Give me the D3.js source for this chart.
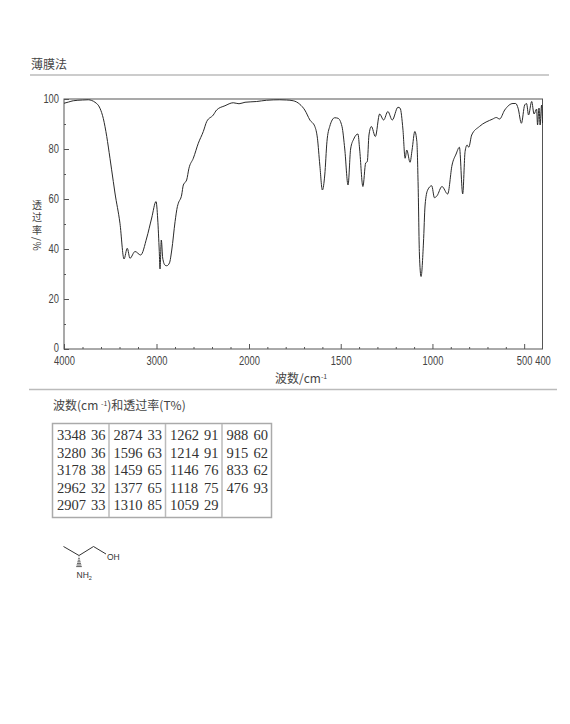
<!DOCTYPE html>
<html>
<head>
<meta charset="utf-8">
<style>
  html, body { margin: 0; padding: 0; background: #fff; }
  svg { display: block; }
  text { fill: #444; }
  .cjk { font-family: "Noto Sans CJK SC", sans-serif; font-size: 12px; }
  .ytitle { font-size: 10px; }
  .tick text { font-family: "Liberation Sans", sans-serif; font-size: 12px; fill: #444; }
  .tick line { stroke: #555; }
  .cell { font-family: "Liberation Serif", serif; font-size: 14.5px; fill: #333; }
  .atom { font-family: "Liberation Sans", sans-serif; font-size: 8.5px; fill: #333; }
</style>
<script src="https://cdn.jsdelivr.net/npm/d3@7"></script>
</head>
<body>
<script>
// spectrum
var wavenumbers = [4000, 3950, 3900, 3800, 3737, 3700, 3665, 3611, 3575, 3538, 3503, 3467, 3449, 3395, 3351, 3316, 3287, 3232, 3171, 3106, 3052, 3005, 2987, 2970, 2962, 2948, 2933, 2907, 2889, 2860, 2835, 2799, 2774, 2764, 2728, 2710, 2674, 2649, 2602, 2548, 2494, 2457, 2386, 2350, 2260, 2170, 2108, 2043, 1958, 1904, 1832, 1795, 1759, 1723, 1696, 1668, 1641, 1627, 1614, 1600, 1587, 1575, 1560, 1533, 1515, 1493, 1478, 1460, 1446, 1429, 1406, 1397, 1379, 1364, 1355, 1346, 1333, 1311, 1288, 1266, 1243, 1219, 1188, 1176, 1161, 1149, 1140, 1122, 1111, 1096, 1085, 1078, 1071, 1062, 1049, 1040, 1026, 1004, 989, 975, 948, 917, 893, 871, 853, 835, 822, 811, 802, 786, 744, 671, 652, 634, 606, 561, 546, 533, 515, 497, 487, 476, 459, 446, 432, 427, 419, 413, 405, 400];
var transmittance = [98.3, 98.8, 99.3, 99.6, 99.7, 99.4, 98.7, 96.3, 92.2, 85, 76.3, 67, 62.4, 50.3, 36, 40.3, 36.3, 39, 37.6, 44.4, 52.4, 59, 52, 39, 32, 43.6, 36.4, 33.5, 33.3, 34.4, 39.6, 51, 57, 58.3, 61.6, 65.6, 67.6, 72.3, 76.3, 82.3, 87, 91, 93.6, 95.6, 97.3, 98.5, 98.1, 98.7, 99, 99.5, 99.7, 99.6, 99.3, 97.9, 95.6, 91.6, 89, 84.3, 73.6, 63.6, 69.6, 83, 89, 92.5, 92.3, 89, 80, 65.6, 80, 84, 86, 80, 65, 74.4, 75, 85.6, 89, 85, 94, 91.6, 95, 91.6, 96.7, 96.3, 88, 76.3, 79.6, 74.7, 79.6, 87, 83, 65.6, 38, 29, 42.4, 57.6, 63.6, 65.3, 60.5, 61.3, 65, 62, 73.6, 78, 80.7, 62, 79, 81.6, 80.7, 85.6, 89, 92, 92.6, 92, 95.6, 98.2, 98.2, 96.3, 90.3, 97.6, 98.2, 93.6, 99, 94, 96, 89.6, 96.4, 89.6, 97.6, 90.4];

var xMajor = [4000, 3000, 2000, 1500, 1000, 500, 400];
var xMinor = [3800, 3600, 3400, 3200, 2800, 2600, 2400, 2200, 1900, 1800, 1700, 1600, 1400, 1300, 1200, 1100, 900, 800, 700, 600];
var yMajor = [0, 20, 40, 60, 80, 100];
var yMinor = [10, 30, 50, 70, 90];
var yTitleChars = ['透', '过', '率', '/', '%'];

// peak table, column by column
var peakWave = [[3348, 3280, 3178, 2962, 2907], [2874, 1596, 1459, 1377, 1310], [1262, 1214, 1146, 1118, 1059], [988, 915, 833, 476]];
var peakT = [[36, 36, 38, 32, 33], [33, 63, 65, 65, 85], [91, 91, 76, 75, 29], [60, 62, 62, 93]];

var svg = d3.select('body').append('svg').attr('width', 570).attr('height', 724);

// the axis changes scale at 2000
var x = d3.scaleLinear().domain([4000, 2000, 400]).range([64, 249, 542.5]);
var y = d3.scaleLinear().domain([0, 100]).range([349, 99]);

function rule(y0, x0, x1) {
    svg.append('line').attr('x1', x0).attr('x2', x1).attr('y1', y0).attr('y2', y0)
        .attr('stroke', '#bbb').attr('stroke-width', 1.5);
}
function label(px, py, str) {
    return svg.append('text').attr('class', 'cjk').attr('x', px).attr('y', py).text(str);
}
// tick digits in the picture are condensed and no narrow face is installed
function squeeze(sel) {
    sel.selectAll('.tick text')
        .attr('textLength', function() { return this.textContent.length * 5.2; })
        .attr('lengthAdjust', 'spacingAndGlyphs');
}

label(31, 69, '薄膜法');
rule(75, 30, 549);
rule(389.5, 29, 557);

// axes, ticks point into the plot
var xAxis = svg.append('g').attr('transform', 'translate(0,349)')
    .call(d3.axisBottom(x).tickValues(xMajor).tickSize(-5).tickPadding(7).tickFormat(d3.format('d')));
xAxis.selectAll('.tick').filter(function(d) { return d === 400; }).select('line').remove();
xAxis.select('.domain').remove();
xAxis.call(squeeze);
svg.append('g').attr('transform', 'translate(0,349)')
    .call(d3.axisBottom(x).tickValues(xMinor).tickSize(-2).tickFormat(''))
    .select('.domain').remove();

var yAxis = svg.append('g').attr('transform', 'translate(64,0)')
    .call(d3.axisLeft(y).tickValues(yMajor).tickSize(-5));
yAxis.select('.domain').remove();
yAxis.selectAll('.tick text').attr('x', -5);
yAxis.selectAll('.tick').filter(function(d) { return d === 0; }).select('text').attr('y', -1);
yAxis.call(squeeze);
svg.append('g').attr('transform', 'translate(64,0)')
    .call(d3.axisLeft(y).tickValues(yMinor).tickSize(-2).tickFormat(''))
    .select('.domain').remove();

svg.append('rect').attr('x', 64).attr('y', 99).attr('width', 478.5).attr('height', 250)
    .attr('fill', 'none').attr('stroke', '#555');

var line = d3.line()
    .x(function(d) { return x(d); })
    .y(function(d, i) { return y(transmittance[i]); })
    .curve(d3.curveMonotoneX);
svg.append('path').attr('d', line(wavenumbers))
    .attr('fill', 'none').attr('stroke', '#2a2a2a').attr('stroke-width', 1);

// y title: stacked, the two latin signs turned on their side
var titleY = [204, 216.5, 229, 239, 246];
svg.selectAll('text.ytitle').data(yTitleChars).enter().append('text')
    .attr('class', 'cjk ytitle')
    .attr('text-anchor', 'middle')
    .attr('dominant-baseline', 'central')
    .attr('transform', function(d, i) {
        return 'translate(37,' + titleY[i] + ')' + (i > 2 ? ' rotate(90)' : '');
    })
    .text(function(d) { return d; });

var xTitle = label(275, 383, '波数/cm');
xTitle.append('tspan').attr('dy', -4).style('font-size', '7px').text('-1');

var head = label(53, 410, '波数(cm ');
head.append('tspan').attr('dy', -4).style('font-size', '7px').text('-1');
head.append('tspan').attr('dy', 4).text(')和透过率(T%)');

// peak table
var colX = [52.5, 109, 165.5, 222, 271.5];
var rowY = d3.scaleLinear().domain([0, 4]).range([440, 510]);
svg.append('rect').attr('x', 52.5).attr('y', 423.5).attr('width', 219).attr('height', 94)
    .attr('fill', 'none').attr('stroke', '#aaa').attr('stroke-width', 1.5);
svg.selectAll('line.col').data(colX.slice(1, 4)).enter().append('line')
    .attr('class', 'col')
    .attr('x1', function(d) { return d; }).attr('x2', function(d) { return d; })
    .attr('y1', 424).attr('y2', 517).attr('stroke', '#bbb').attr('stroke-width', 1.5);

peakWave.forEach(function(col, c) {
    var g = svg.append('g');
    g.selectAll('text.wave').data(col).enter().append('text')
        .attr('class', 'cell wave')
        .attr('x', colX[c] + 4.5)
        .attr('y', function(d, i) { return rowY(i); })
        .text(function(d) { return d; });
    g.selectAll('text.val').data(peakT[c]).enter().append('text')
        .attr('class', 'cell val')
        .attr('x', colX[c + 1] - 3.5)
        .attr('text-anchor', 'end')
        .attr('y', function(d, i) { return rowY(i); })
        .text(function(d) { return d; });
});

// structure: (S)-2-aminopropan-1-ol
var mol = svg.append('g');
mol.append('polyline').attr('points', '63.5,546.5 79,555.5 93.5,546.5 106,554')
    .attr('fill', 'none').attr('stroke', '#333').attr('stroke-width', 1);
d3.range(7).forEach(function(i) {
    var w = 0.4 + i * 0.4;
    mol.append('line').attr('x1', 79 - w).attr('x2', 79 + w)
        .attr('y1', 557 + i * 1.6).attr('y2', 557 + i * 1.6)
        .attr('stroke', '#333').attr('stroke-width', 0.8);
});
mol.append('text').attr('class', 'atom').attr('x', 107).attr('y', 559.5).text('OH');
var nh = mol.append('text').attr('class', 'atom').attr('x', 76.5).attr('y', 577.5).text('NH');
nh.append('tspan').attr('dy', 2).style('font-size', '5.5px').text('2');
</script>
</body>
</html>
